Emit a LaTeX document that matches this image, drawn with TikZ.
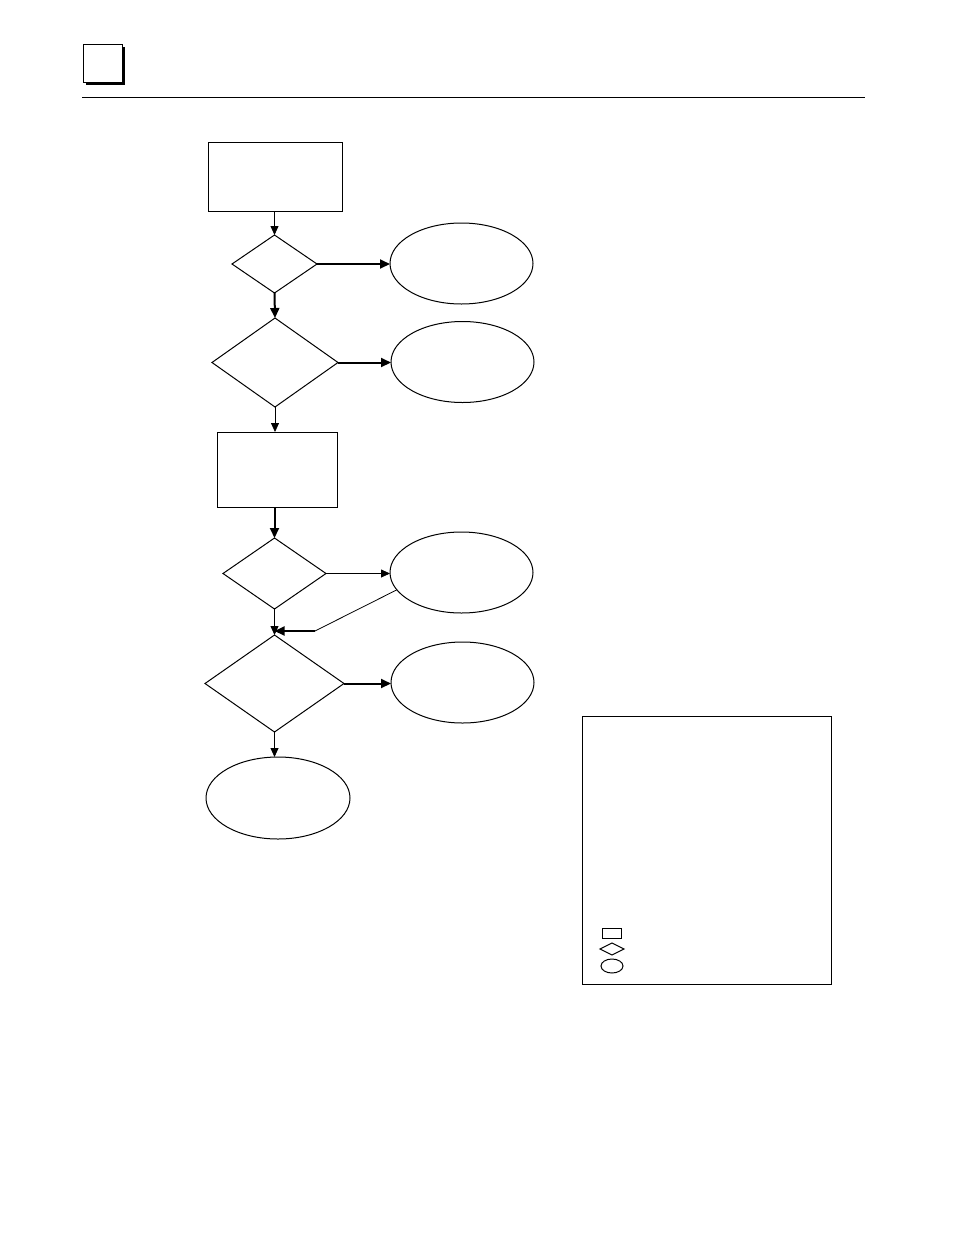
\documentclass[tikz,border=0pt]{standalone}
\usetikzlibrary{shapes.geometric,arrows.meta}
\tikzset{
    every node/.style={draw, line width=1pt, inner sep=0pt, outer sep=0pt}
}
\tikzset{
    stepbox/.style={rectangle},
    decide/.style={diamond},
    endcap/.style={ellipse, minimum width=143pt, minimum height=81pt},
    thin arrow/.style={line width=0.8pt, -{Triangle[length=9pt,width=8pt]}},
    thick arrow/.style={line width=2pt, -{Triangle[length=10pt,width=9pt]}}
}
\begin{document}
\begin{tikzpicture}[x=1pt, y=-1pt]
	\useasboundingbox (0,0) rectangle (954,1235);
	% page header
	\fill (86,47) rectangle (125,85);
	\draw [fill=white, line width=1pt] (83,44) rectangle (122,82);
	\draw [line width=0.8pt] (82,97.5) -- (865,97.5);
	% flow chart
	\node [stepbox, minimum width=134pt, minimum height=69pt] (box1) at (275,176.5) {};
	\node [decide, minimum width=85pt, minimum height=58pt] (dec1) at (274.5,264) {};
	\node [endcap] (end1) at (461.5,263.5) {};
	\node [decide, minimum width=126pt, minimum height=89pt] (dec2) at (275,362.5) {};
	\node [endcap] (end2) at (462.5,362) {};
	\node [stepbox, minimum width=120pt, minimum height=75pt] (box2) at (277,469.5) {};
	\node [decide, minimum width=103pt, minimum height=71pt] (dec3) at (274.5,573.5) {};
	\node [endcap] (end3) at (461.5,572.5) {};
	\node [decide, minimum width=139pt, minimum height=97pt] (dec4) at (274.5,683.5) {};
	\node [endcap] (end4) at (462.5,682.5) {};
	\node [endcap, minimum width=144pt, minimum height=82pt] (end5) at (278,798) {};
	\coordinate (bend) at (315,631);
	\coordinate (join) at (274.5,631);
	\draw [thin arrow] (box1.south -| dec1.north) -- (dec1.north);
	\draw [thick arrow] (dec1.east) -- (dec1.east -| end1.west);
	\draw [thick arrow] (dec1.south) -- (dec2.north);
	\draw [thick arrow] (dec2.east) -- (dec2.east -| end2.west);
	\draw [thin arrow] (dec2.south) -- (dec2.south |- box2.north);
	\draw [thick arrow] (dec3.north |- box2.south) -- (dec3.north);
	\draw [thin arrow] (dec3.east) -- (dec3.east -| end3.west);
	\draw [line width=0.8pt] (end3.195) -- (bend);
	\draw [thick arrow] (bend) -- (join);
	\draw [thin arrow] (dec3.south) -- (dec4.north);
	\draw [thick arrow] (dec4.east) -- (dec4.east -| end4.west);
	\draw [thin arrow] (dec4.south) -- (dec4.south |- end5.north);
	% legend
	\node [stepbox, minimum width=249pt, minimum height=268pt] (key) at (706.5,850) {};
	\node [stepbox, minimum width=19pt, minimum height=10pt] (keybox) at (611.5,933) {};
	\node [decide, minimum width=24pt, minimum height=12pt] (keydec) at (612,949) {};
	\node [ellipse, minimum width=22pt, minimum height=14pt] (keyend) at (612,966) {};
\end{tikzpicture}
\end{document}
